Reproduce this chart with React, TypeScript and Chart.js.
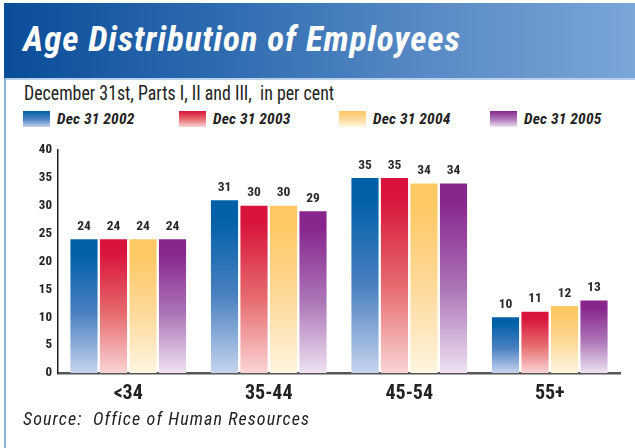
import React, { useEffect, useRef } from "react";
import { Chart, registerables } from "chart.js";

Chart.register(...registerables);

const categories = ["<34", "35-44", "45-54", "55+"];
const seriesLabels = ["Dec 31 2002", "Dec 31 2003", "Dec 31 2004", "Dec 31 2005"];
const values2002 = [24, 31, 35, 10];
const values2003 = [24, 30, 35, 11];
const values2004 = [24, 30, 34, 12];
const values2005 = [24, 29, 34, 13];
const seriesValues = [values2002, values2003, values2004, values2005];
const yMin = 0;
const yMax = 40;
const yStep = 5;

const topColors = ["#0060a8", "#d8143c", "#ffc862", "#88268e"];
const midColors = ["#4a80c0", "#e66a6e", "#fdd99a", "#ab74b6"];
const bottomColors = ["#c6d4ee", "#fad4d4", "#fff5e0", "#eee2f2"];

const NARROW = '"Liberation Sans Narrow", "Roboto Condensed", "Liberation Sans", Arial, sans-serif';

function makeGradient(ctx: CanvasRenderingContext2D, top: number, bottom: number, i: number) {
  const g = ctx.createLinearGradient(0, top, 0, bottom);
  g.addColorStop(0, topColors[i]);
  g.addColorStop(0.1, topColors[i]);
  g.addColorStop(0.55, midColors[i]);
  g.addColorStop(1, bottomColors[i]);
  return g;
}

const valueLabels = {
  id: "valueLabels",
  afterDatasetsDraw(chart: any) {
    const ctx = chart.ctx;
    ctx.save();
    ctx.font = `bold 13.5px ${NARROW}`;
    ctx.fillStyle = "#2a2a2a";
    ctx.textAlign = "center";
    ctx.textBaseline = "bottom";
    chart.data.datasets.forEach((ds: any, di: number) => {
      const meta = chart.getDatasetMeta(di);
      meta.data.forEach((el: any, i: number) => {
        ctx.fillText(String(ds.data[i]), el.x, el.y - 6);
      });
    });
    ctx.restore();
  },
};

function Swatch({ i }: { i: number }) {
  return (
    <div
      style={{
        width: 27,
        height: 16,
        flex: "none",
        background: `linear-gradient(to bottom, ${topColors[i]} 0%, ${midColors[i]} 50%, ${bottomColors[i]} 100%)`,
      }}
    />
  );
}

export default function App() {
  const ref = useRef<HTMLCanvasElement | null>(null);

  useEffect(() => {
    document.body.style.margin = "0";
    const canvas = ref.current!;
    const chart = new Chart(canvas, {
      type: "bar",
      data: {
        labels: categories,
        datasets: seriesValues.map((vals, i) => ({
          label: seriesLabels[i],
          data: vals,
          backgroundColor: (c: any) => {
            const ch = c.chart;
            const y = ch.scales && ch.scales.y;
            if (!y || c.parsed == null || c.type !== "data") return topColors[i];
            const top = y.getPixelForValue(c.parsed.y);
            const bottom = y.getPixelForValue(0);
            if (!isFinite(top) || !isFinite(bottom)) return topColors[i];
            return makeGradient(ch.ctx, top, bottom, i);
          },
          borderWidth: 0,
          categoryPercentage: 0.84,
          barPercentage: 0.92,
        })),
      },
      options: {
        animation: false,
        responsive: false,
        maintainAspectRatio: false,
        layout: { padding: { top: 150, right: 15, left: 0, bottom: 0 } },
        plugins: {
          legend: { display: false },
          tooltip: { enabled: false },
          title: { display: false },
        },
        scales: {
          x: {
            grid: { display: false, drawTicks: false },
            border: { display: true, color: "#555555", width: 2.5 },
            ticks: {
              font: { family: NARROW, size: 20, weight: "bold" },
              color: "#222222",
              padding: 9,
            },
            afterFit: (s: any) => {
              s.height = 75;
            },
          },
          y: {
            min: yMin,
            max: yMax,
            grid: { display: false, drawTicks: false },
            border: { display: true, color: "#222222", width: 1.5 },
            ticks: {
              stepSize: yStep,
              font: { family: NARROW, size: 13, weight: "bold" },
              color: "#222222",
              padding: 6,
            },
            afterFit: (s: any) => {
              s.width = 58;
            },
          },
        },
      },
      plugins: [valueLabels],
    });
    return () => chart.destroy();
  }, []);

  const legendX = [23, 179, 339, 490];

  return (
    <div style={{ position: "fixed", left: 0, top: 0, width: 635, height: 448, background: "#fff", overflow: "hidden" }}>
      <div
        style={{
          position: "absolute",
          left: 4,
          top: 3,
          width: 631,
          height: 75,
          background: "linear-gradient(to right, #0a4c98 0%, #2e6cb0 35%, #5688c4 65%, #7aa6d8 100%)",
        }}
      />
      <div style={{ position: "absolute", left: 4, top: 78, width: 631, height: 1.5, background: "#b8d0ec" }} />
      <div style={{ position: "absolute", left: 4, top: 78, width: 1.5, height: 370, background: "#8ab0dc" }} />
      <div
        style={{
          position: "absolute",
          left: 23,
          top: 17,
          color: "#fff",
          fontFamily: NARROW,
          fontWeight: "bold",
          fontStyle: "italic",
          fontSize: 35,
          letterSpacing: 0.9,
          whiteSpace: "nowrap",
          lineHeight: "46px",
        }}
      >
        Age Distribution of Employees
      </div>
      <div
        style={{
          position: "absolute",
          left: 24,
          top: 80,
          color: "#222",
          fontFamily: NARROW,
          fontSize: 21,
          whiteSpace: "pre",
          lineHeight: "26px",
          transform: "scaleX(0.85)",
          transformOrigin: "left center",
        }}
      >
        {"December 31st, Parts I, II and III,  in per cent"}
      </div>
      {seriesLabels.map((l, i) => (
        <div
          key={l}
          style={{ position: "absolute", left: legendX[i], top: 111, display: "flex", alignItems: "center", height: 16 }}
        >
          <Swatch i={i} />
          <span
            style={{
              marginLeft: 7,
              fontFamily: NARROW,
              fontWeight: "bold",
              fontStyle: "italic",
              fontSize: 15.5,
              letterSpacing: 0.2,
              color: "#222",
              whiteSpace: "nowrap",
            }}
          >
            {l}
          </span>
        </div>
      ))}
      <canvas ref={ref} width={635} height={448} style={{ position: "absolute", left: 0, top: 0, width: 635, height: 448 }} />
      <div
        style={{
          position: "absolute",
          left: 23,
          top: 407,
          color: "#222",
          fontFamily: NARROW,
          fontStyle: "italic",
          fontSize: 18,
          letterSpacing: 1.1,
          whiteSpace: "pre",
          lineHeight: "24px",
        }}
      >
        {"Source:  Office of Human Resources"}
      </div>
    </div>
  );
}
